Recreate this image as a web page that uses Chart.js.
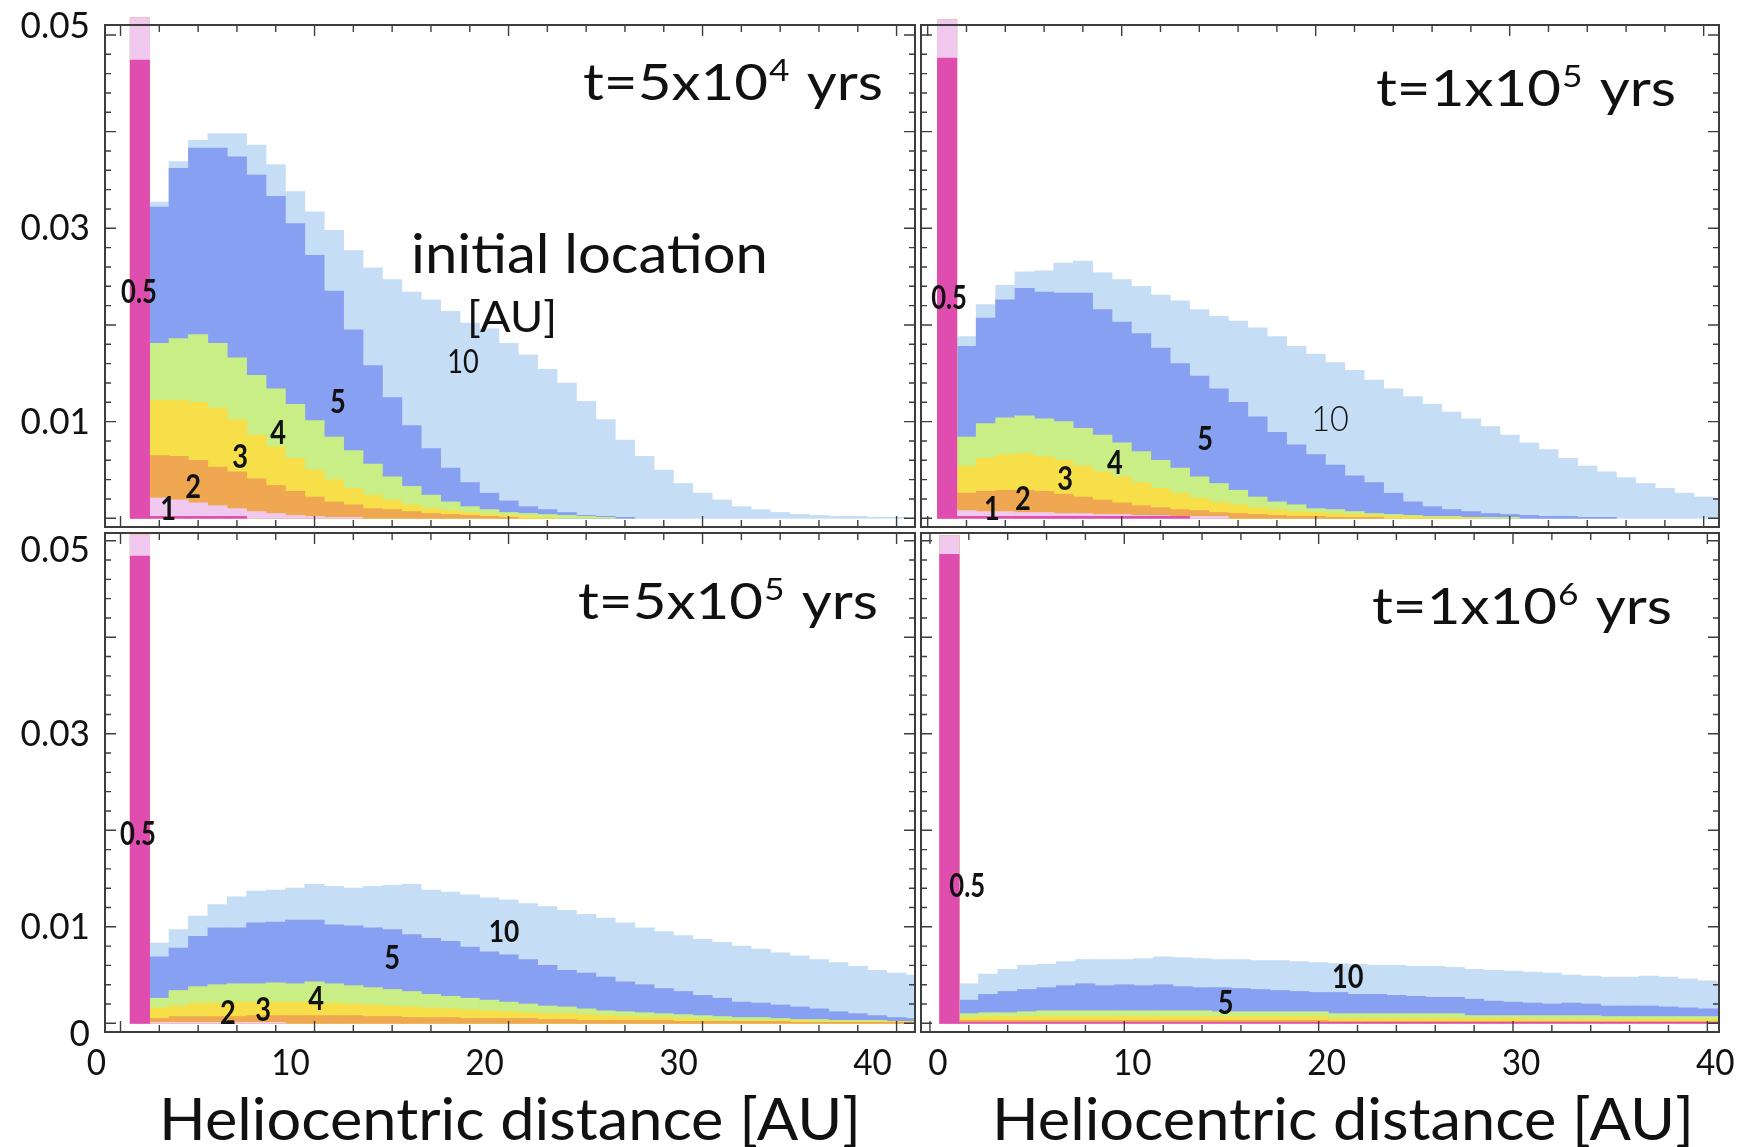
<!DOCTYPE html>
<html>
<head>
<meta charset="utf-8">
<script src="https://cdn.jsdelivr.net/npm/chart.js@4.4.1/dist/chart.umd.min.js"></script>
<style>
  html, body { margin: 0; padding: 0; background: #fff; }
  body { width: 1743px; height: 1147px; position: relative; overflow: hidden; }
  canvas { position: absolute; }
</style>
</head>
<body>
<canvas id="tl" width="918" height="530" style="left:0px;top:0px;"></canvas>
<canvas id="tr" width="825" height="530" style="left:918px;top:0px;"></canvas>
<canvas id="bl" width="918" height="617" style="left:0px;top:530px;"></canvas>
<canvas id="br" width="825" height="617" style="left:918px;top:530px;"></canvas>
<script>
// ---------------- DATA ----------------
// bin centres (heliocentric distance, AU); bins are 1 AU wide
const binCenters = [1,2,3,4,5,6,7,8,9,10,11,12,13,14,15,16,17,18,19,20,21,22,23,24,25,26,27,28,29,30,31,32,33,34,35,36,37,38,39,40,41];
// series = initial location [AU]
const seriesLabels = ['0.5', '1', '2', '3', '4', '5', '10'];
const seriesColors = ['#DF4DAF', '#F1C8EE', '#EFA752', '#F7DF49', '#C9EE85', '#88A0F1', '#C5DDF5'];
// Values are cumulative stack tops (fraction of particles from initial location <= series label)

// t = 5x10^4 yrs
const tl_05 = [0.0474,0.0002,0.0002,0.0002,0.0002,0.0002,0,0,0,0,0,0,0,0,0,0,0,0,0,0,0,0,0,0,0,0,0,0,0,0,0,0,0,0,0,0,0,0,0,0,0];
const tl_1  = [0.0518,0.0021,0.0019,0.0016,0.0013,0.0010,0.0007,0.0005,0.0003,0.0002,0.0001,0.0001,0,0,0,0,0,0,0,0,0,0,0,0,0,0,0,0,0,0,0,0,0,0,0,0,0,0,0,0,0];
const tl_2  = [0.0518,0.0065,0.0064,0.0060,0.0053,0.0048,0.0041,0.0034,0.0028,0.0022,0.0017,0.0014,0.0010,0.0009,0.0007,0.0005,0.0004,0.0003,0.0002,0.0001,0,0,0,0,0,0,0,0,0,0,0,0,0,0,0,0,0,0,0,0,0];
const tl_3  = [0.0518,0.0122,0.0122,0.0120,0.0114,0.0102,0.0086,0.0074,0.0062,0.0050,0.0040,0.0031,0.0024,0.0019,0.0014,0.0010,0.0008,0.0006,0.0004,0.0003,0.0002,0.0001,0,0,0,0,0,0,0,0,0,0,0,0,0,0,0,0,0,0,0];
const tl_4  = [0.0518,0.0181,0.0186,0.0190,0.0181,0.0166,0.0148,0.0134,0.0118,0.0101,0.0084,0.0070,0.0056,0.0043,0.0033,0.0024,0.0017,0.0012,0.0009,0.0006,0.0005,0.0004,0.0003,0.0002,0.0001,0,0,0,0,0,0,0,0,0,0,0,0,0,0,0,0];
const tl_5  = [0.0518,0.0322,0.0362,0.0383,0.0383,0.0374,0.0355,0.0333,0.0305,0.0272,0.0235,0.0195,0.0158,0.0125,0.0096,0.0072,0.0052,0.0037,0.0026,0.0018,0.0012,0.0009,0.0006,0.0003,0.0002,0.0001,0,0,0,0,0,0,0,0,0,0,0,0,0,0,0];
const tl_10 = [0.0518,0.0327,0.0369,0.0391,0.0398,0.0398,0.0386,0.0366,0.0338,0.0317,0.0298,0.0277,0.0259,0.0247,0.0234,0.0226,0.0214,0.0202,0.0196,0.0181,0.0169,0.0154,0.0140,0.0121,0.0102,0.0081,0.0064,0.0050,0.0036,0.0026,0.0019,0.0012,0.0009,0.0006,0.0004,0.0003,0.0002,0.0002,0.0001,0.0001,0];

// t = 1x10^5 yrs
const tr_05 = [0.0476,0.0002,0.0002,0.0002,0.0002,0.0002,0.0002,0.0002,0.0002,0.0002,0.0002,0.0002,0.0002,0,0,0,0,0,0,0,0,0,0,0,0,0,0,0,0,0,0,0,0,0,0,0,0,0,0,0,0];
const tr_1  = [0.0516,0.0008,0.0007,0.0007,0.0006,0.0006,0.0005,0.0005,0.0004,0.0004,0.0003,0.0003,0.0002,0.0002,0.0002,0,0,0,0,0,0,0,0,0,0,0,0,0,0,0,0,0,0,0,0,0,0,0,0,0,0];
const tr_2  = [0.0516,0.0026,0.0028,0.0029,0.0029,0.0028,0.0025,0.0022,0.0019,0.0016,0.0013,0.0011,0.0009,0.0008,0.0006,0.0005,0.0004,0.0003,0.0002,0.0002,0.0001,0.0001,0.0001,0,0,0,0,0,0,0,0,0,0,0,0,0,0,0,0,0,0];
const tr_3  = [0.0516,0.0054,0.0062,0.0066,0.0067,0.0064,0.0060,0.0054,0.0048,0.0043,0.0037,0.0031,0.0026,0.0021,0.0017,0.0014,0.0011,0.0009,0.0007,0.0006,0.0005,0.0004,0.0003,0.0002,0.0002,0.0001,0.0001,0.0001,0,0,0,0,0,0,0,0,0,0,0,0,0];
const tr_4  = [0.0516,0.0084,0.0098,0.0104,0.0106,0.0103,0.0100,0.0093,0.0086,0.0078,0.0069,0.0060,0.0052,0.0043,0.0036,0.0029,0.0022,0.0017,0.0014,0.0010,0.0009,0.0007,0.0005,0.0004,0.0003,0.0002,0.0002,0.0001,0.0001,0.0001,0,0,0,0,0,0,0,0,0,0,0];
const tr_5  = [0.0516,0.0178,0.0207,0.0226,0.0238,0.0234,0.0233,0.0233,0.0216,0.0203,0.0191,0.0176,0.0160,0.0147,0.0134,0.0120,0.0105,0.0089,0.0076,0.0066,0.0055,0.0044,0.0037,0.0026,0.0017,0.0012,0.0009,0.0007,0.0005,0.0004,0.0003,0.0002,0.0002,0.0001,0.0001,0,0,0,0,0,0];
const tr_10 = [0.0516,0.0188,0.0221,0.0241,0.0255,0.0256,0.0264,0.0266,0.0254,0.0247,0.0240,0.0231,0.0225,0.0216,0.0209,0.0204,0.0197,0.0188,0.0178,0.0170,0.0161,0.0153,0.0143,0.0134,0.0126,0.0118,0.0110,0.0103,0.0095,0.0086,0.0078,0.0071,0.0062,0.0054,0.0048,0.0042,0.0036,0.0031,0.0026,0.0022,0.0021];

// t = 5x10^5 yrs
const bl_05 = [0.0484,0,0,0,0,0,0,0,0,0,0,0,0,0,0,0,0,0,0,0,0,0,0,0,0,0,0,0,0,0,0,0,0,0,0,0,0,0,0,0,0];
const bl_1  = [0.0506,0.0001,0.0001,0.0001,0.0001,0.0001,0.0001,0.0001,0,0,0,0,0,0,0,0,0,0,0,0,0,0,0,0,0,0,0,0,0,0,0,0,0,0,0,0,0,0,0,0,0];
const bl_2  = [0.0506,0.0005,0.0007,0.0007,0.0007,0.0007,0.0008,0.0008,0.0008,0.0008,0.0008,0.0008,0.0007,0.0007,0.0006,0.0006,0.0006,0.0005,0.0005,0.0005,0.0005,0.0004,0.0004,0.0003,0.0003,0.0003,0.0003,0.0003,0.0002,0.0002,0.0002,0.0002,0.0002,0.0002,0.0001,0.0001,0.0001,0.0001,0.0001,0.0001,0.0001];
const bl_3  = [0.0506,0.0016,0.0018,0.0021,0.0021,0.0022,0.0022,0.0022,0.0022,0.0022,0.0021,0.0020,0.0019,0.0018,0.0017,0.0016,0.0015,0.0014,0.0013,0.0012,0.0011,0.0010,0.0010,0.0009,0.0008,0.0007,0.0006,0.0006,0.0005,0.0004,0.0003,0.0003,0.0003,0.0003,0.0003,0.0002,0.0002,0.0002,0.0002,0.0002,0.0002];
const bl_4  = [0.0506,0.0026,0.0034,0.0038,0.0040,0.0041,0.0041,0.0042,0.0041,0.0043,0.0041,0.0039,0.0037,0.0035,0.0033,0.0030,0.0028,0.0026,0.0024,0.0022,0.0020,0.0018,0.0017,0.0015,0.0013,0.0012,0.0011,0.0010,0.0009,0.0008,0.0007,0.0006,0.0006,0.0005,0.0004,0.0004,0.0003,0.0003,0.0003,0.0002,0.0002];
const bl_5  = [0.0506,0.0069,0.0078,0.0090,0.0099,0.0099,0.0104,0.0105,0.0107,0.0107,0.0102,0.0101,0.0099,0.0097,0.0092,0.0088,0.0085,0.0079,0.0074,0.0071,0.0066,0.0060,0.0055,0.0052,0.0048,0.0043,0.0040,0.0036,0.0033,0.0029,0.0026,0.0022,0.0021,0.0019,0.0017,0.0015,0.0012,0.0010,0.0008,0.0006,0.0005];
const bl_10 = [0.0506,0.0083,0.0097,0.0111,0.0123,0.0131,0.0137,0.0138,0.0140,0.0144,0.0142,0.0140,0.0142,0.0143,0.0144,0.0138,0.0136,0.0133,0.0130,0.0128,0.0124,0.0121,0.0117,0.0113,0.0109,0.0104,0.0099,0.0095,0.0091,0.0087,0.0084,0.0080,0.0077,0.0073,0.0070,0.0066,0.0063,0.0059,0.0055,0.0052,0.0050];

// t = 1x10^6 yrs
const br_05 = [0.0486,0.0001,0.0001,0.0001,0.0001,0.0001,0.0001,0.0001,0.0001,0.0001,0.0001,0.0001,0.0001,0.0001,0.0001,0.0001,0.0001,0.0001,0.0001,0.0001,0.0001,0.0001,0.0001,0.0001,0.0001,0.0001,0.0001,0.0001,0.0001,0.0001,0.0001,0.0001,0.0001,0.0001,0.0001,0.0001,0.0001,0.0001,0.0001,0.0001,0.0001];
const br_1  = [0.0505,0.0001,0.0001,0.0001,0.0001,0.0001,0.0001,0.0001,0.0001,0.0001,0.0001,0.0001,0.0001,0.0001,0.0001,0.0001,0.0001,0.0001,0.0001,0.0001,0.0001,0.0001,0.0001,0.0001,0.0001,0.0001,0.0001,0.0001,0.0001,0.0001,0.0001,0.0001,0.0001,0.0001,0.0001,0.0001,0.0001,0.0001,0.0001,0.0001,0.0001];
const br_2  = [0.0505,0.0003,0.0003,0.0003,0.0003,0.0003,0.0003,0.0003,0.0003,0.0003,0.0003,0.0003,0.0003,0.0003,0.0003,0.0003,0.0003,0.0003,0.0003,0.0003,0.0002,0.0002,0.0002,0.0002,0.0002,0.0002,0.0002,0.0002,0.0002,0.0002,0.0002,0.0002,0.0002,0.0002,0.0002,0.0002,0.0002,0.0002,0.0002,0.0002,0.0002];
const br_3  = [0.0505,0.0006,0.0007,0.0007,0.0007,0.0007,0.0007,0.0007,0.0007,0.0007,0.0007,0.0007,0.0007,0.0007,0.0007,0.0007,0.0007,0.0007,0.0007,0.0007,0.0005,0.0005,0.0005,0.0005,0.0005,0.0005,0.0005,0.0005,0.0005,0.0005,0.0004,0.0004,0.0004,0.0004,0.0004,0.0004,0.0004,0.0004,0.0004,0.0004,0.0004];
const br_4  = [0.0505,0.0010,0.0011,0.0011,0.0012,0.0013,0.0013,0.0013,0.0013,0.0013,0.0013,0.0013,0.0013,0.0013,0.0012,0.0012,0.0012,0.0012,0.0012,0.0012,0.0010,0.0010,0.0010,0.0010,0.0010,0.0010,0.0010,0.0008,0.0008,0.0008,0.0008,0.0008,0.0008,0.0008,0.0007,0.0007,0.0007,0.0007,0.0007,0.0007,0.0007];
const br_5  = [0.0505,0.0024,0.0030,0.0033,0.0035,0.0037,0.0039,0.0041,0.0039,0.0040,0.0039,0.0040,0.0038,0.0037,0.0037,0.0036,0.0035,0.0034,0.0033,0.0032,0.0032,0.0030,0.0030,0.0029,0.0028,0.0027,0.0027,0.0025,0.0023,0.0022,0.0021,0.0020,0.0021,0.0020,0.0018,0.0018,0.0018,0.0017,0.0016,0.0015,0.0015];
const br_10 = [0.0505,0.0041,0.0051,0.0056,0.0060,0.0061,0.0064,0.0066,0.0066,0.0066,0.0067,0.0069,0.0068,0.0067,0.0066,0.0066,0.0065,0.0065,0.0064,0.0063,0.0062,0.0061,0.0060,0.0060,0.0059,0.0059,0.0058,0.0056,0.0055,0.0054,0.0053,0.0052,0.0050,0.0049,0.0048,0.0048,0.0049,0.0048,0.0046,0.0044,0.0042];

// tick labels
const xTickValues = [0, 10, 20, 30, 40];
const xTickText = ['0', '10', '20', '30', '40'];
const yTickValuesTop = [0.05, 0.03, 0.01];
const yTickTextTop = ['0.05', '0.03', '0.01'];
const yTickValuesBottom = [0.05, 0.03, 0.01, 0];
const yTickTextBottom = ['0.05', '0.03', '0.01', '0'];
const panelTimes = [['t=5x10', '4', ' yrs'], ['t=1x10', '5', ' yrs'], ['t=5x10', '5', ' yrs'], ['t=1x10', '6', ' yrs']];
const xAxisTitle = 'Heliocentric distance [AU]';

// ---------------- DRAWING ----------------
function scaledText(ctx, str, x, y, font, align, baseline, sx) {
  ctx.save();
  ctx.font = font; ctx.textAlign = align; ctx.textBaseline = baseline;
  ctx.translate(x, y); ctx.scale(sx, 1);
  ctx.fillText(str, 0, 0);
  ctx.restore();
}

const framePlugin = {
  id: 'frame',
  afterDraw(chart, args, o) {
    const { ctx, chartArea: a } = chart;
    const xs = chart.scales.x, ys = chart.scales.y;
    ctx.save();
    ctx.strokeStyle = '#3d3d3d';
    ctx.lineWidth = 2;
    ctx.strokeRect(a.left, a.top, a.right - a.left, a.bottom - a.top);
    ctx.lineWidth = 1.4;
    ctx.beginPath();
    // x ticks every 2 AU, long every 10 AU (top and bottom, inward)
    for (let i = Math.ceil(xs.min / 2); i * 2 <= xs.max; i++) {
      const px = xs.getPixelForValue(i * 2);
      const len = (i % 5 === 0) ? 11 : 7;
      ctx.moveTo(px, a.bottom); ctx.lineTo(px, a.bottom - len);
      ctx.moveTo(px, a.top); ctx.lineTo(px, a.top + len);
    }
    // y ticks every 0.002, long every 0.01 (left and right, inward)
    for (let i = Math.ceil(ys.min / 0.002 - 1e-6); i * 0.002 <= ys.max + 1e-9; i++) {
      const py = ys.getPixelForValue(i * 0.002);
      const len = (i % 5 === 0) ? 11 : 6;
      ctx.moveTo(a.left, py); ctx.lineTo(a.left + len, py);
      ctx.moveTo(a.right, py); ctx.lineTo(a.right - len, py);
    }
    ctx.stroke();

    ctx.fillStyle = '#111';
    // y tick labels
    if (o.yVals) {
      o.yVals.forEach((v, i) => {
        scaledText(ctx, o.yText[i], a.left - 15, ys.getPixelForValue(v) + o.yShift[i], '37px Lato', 'right', 'middle', 0.95);
      });
    }
    // x tick labels
    if (o.xLabels) {
      xTickValues.forEach((v, i) => {
        scaledText(ctx, xTickText[i], xs.getPixelForValue(v) + o.xLabelShift, a.bottom + 31, '37px Lato', 'center', 'middle', 0.9);
      });
      // axis title, fitted to reference width
      ctx.font = '59px Lato';
      const w = ctx.measureText(xAxisTitle).width;
      scaledText(ctx, xAxisTitle, xs.getPixelForValue(o.axisTitleX), a.bottom + 108, '59px Lato', 'center', 'alphabetic', o.axisTitleW / w);
    }
    // panel time label with superscript
    const t = o.time;
    const mainF = '51px Lato', supF = '31px Lato';
    ctx.font = mainF;
    const w1 = ctx.measureText(t[0]).width, w3 = ctx.measureText(t[2]).width;
    ctx.font = supF;
    const w2 = ctx.measureText(t[1]).width;
    const sx = o.timeW / (w1 + w2 + w3 + 3);
    ctx.save();
    ctx.translate(a.right - o.timeRight - o.timeW, a.top + o.timeBase);
    ctx.scale(sx, 1);
    ctx.textAlign = 'left'; ctx.textBaseline = 'alphabetic';
    ctx.font = mainF; ctx.fillText(t[0], 0, 0);
    ctx.font = supF; ctx.fillText(t[1], w1 + 1, -19);
    ctx.font = mainF; ctx.fillText(t[2], w1 + w2 + 3, 0);
    ctx.restore();
    // in-plot series annotations
    (o.notes || []).forEach(n => {
      scaledText(ctx, n.text, xs.getPixelForValue(n.x), ys.getPixelForValue(n.y), n.font, 'center', 'middle', n.sx || 0.85);
    });
    // legend caption (top-left panel)
    if (o.caption) {
      ctx.font = '54px Lato';
      const cw = ctx.measureText('initial location').width;
      scaledText(ctx, 'initial location', xs.getPixelForValue(o.caption.x), ys.getPixelForValue(o.caption.y), '54px Lato', 'left', 'alphabetic', 357 / cw);
      ctx.font = '42px Lato';
      const aw = ctx.measureText('[AU]').width;
      scaledText(ctx, '[AU]', xs.getPixelForValue(o.caption.ax), ys.getPixelForValue(o.caption.ay), '42px Lato', 'center', 'alphabetic', 90 / aw);
    }
    ctx.restore();
  }
};

function makePanel(id, series, opts) {
  const datasets = series.map((arr, i) => ({
    label: seriesLabels[i],
    // empty bins are left out (null) so that no hairline is drawn for them
    data: binCenters.map((x, j) => ({ x: x, y: arr[j] === 0 ? null : arr[j] })),
    backgroundColor: seriesColors[i],
    borderWidth: 0,
    grouped: false,
    barPercentage: 1,
    categoryPercentage: 1,
    // clip to the frame except at the top (first bin pokes above the frame)
    clip: { left: 0, right: 0, bottom: 0, top: false }
  }));
  return new Chart(document.getElementById(id), {
    type: 'bar',
    data: { datasets },
    options: {
      responsive: false,
      animation: false,
      devicePixelRatio: 1,
      layout: { padding: opts.padding },
      plugins: { legend: { display: false }, tooltip: { enabled: false }, frame: opts.frame },
      scales: {
        x: { type: 'linear', offset: false, min: opts.xmin, max: opts.xmax, display: false,
             grid: { offset: false }, ticks: { stepSize: 2, includeBounds: false } },
        y: { type: 'linear', min: opts.ymin, max: opts.ymax, display: false, ticks: { stepSize: 0.002, includeBounds: false } }
      }
    },
    plugins: [framePlugin]
  });
}

const B = 'bold 32px Lato', S = 'bold 32px Lato';

makePanel('tl', [tl_05, tl_1, tl_2, tl_3, tl_4, tl_5, tl_10], {
  padding: { left: 105, top: 25, right: 3, bottom: 3 },
  xmin: -0.80, xmax: 40.95, ymin: -0.0009, ymax: 0.05103,
  frame: {
    yVals: yTickValuesTop, yText: yTickTextTop, yShift: [-9, 0, 0],
    time: panelTimes[0], timeW: 300, timeRight: 32, timeBase: 75,
    notes: [
      { text: '0.5', x: 0.95, y: 0.0233, font: S, sx: 0.8 },
      { text: '1', x: 2.45, y: 0.0009, font: B },
      { text: '2', x: 3.74, y: 0.0032, font: B },
      { text: '3', x: 6.16, y: 0.0063, font: B },
      { text: '4', x: 8.12, y: 0.0088, font: B },
      { text: '5', x: 11.21, y: 0.0120, font: B },
      { text: '10', x: 17.65, y: 0.0161, font: '32px Lato' }
    ],
    caption: { x: 14.97, y: 0.0254, ax: 20.18, ay: 0.0193 }
  }
});

makePanel('tr', [tr_05, tr_1, tr_2, tr_3, tr_4, tr_5, tr_10], {
  padding: { left: 3, top: 25, right: 24, bottom: 3 },
  xmin: -0.345, xmax: 40.79, ymin: -0.0009, ymax: 0.05103,
  frame: {
    time: panelTimes[1], timeW: 300, timeRight: 43, timeBase: 81,
    notes: [
      { text: '0.5', x: 1.10, y: 0.0227, font: S, sx: 0.8 },
      { text: '1', x: 3.31, y: 0.0009, font: B },
      { text: '2', x: 4.91, y: 0.0019, font: B },
      { text: '3', x: 7.08, y: 0.0040, font: B },
      { text: '4', x: 9.65, y: 0.0057, font: B },
      { text: '5', x: 14.3, y: 0.0081, font: B },
      { text: '10', x: 20.74, y: 0.0102, font: '300 36px Lato', sx: 0.9 }
    ]
  }
});

makePanel('bl', [bl_05, bl_1, bl_2, bl_3, bl_4, bl_5, bl_10], {
  padding: { left: 105, top: 3, right: 3, bottom: 115 },
  xmin: -0.80, xmax: 40.95, ymin: -0.0009, ymax: 0.0508,
  frame: {
    yVals: yTickValuesBottom, yText: yTickTextBottom, yShift: [9, 0, 0, 11],
    xLabels: true, xLabelShift: -24, axisTitleX: 20.08, axisTitleW: 702,
    time: panelTimes[2], timeW: 300, timeRight: 37, timeBase: 86,
    notes: [
      { text: '0.5', x: 0.90, y: 0.0195, font: S, sx: 0.8 },
      { text: '2', x: 5.54, y: 0.0010, font: B },
      { text: '3', x: 7.35, y: 0.0013, font: B },
      { text: '4', x: 10.08, y: 0.0024, font: B },
      { text: '5', x: 14.0, y: 0.0067, font: B },
      { text: '10', x: 19.77, y: 0.0095, font: 'bold 31px Lato' }
    ]
  }
});

makePanel('br', [br_05, br_1, br_2, br_3, br_4, br_5, br_10], {
  padding: { left: 3, top: 3, right: 24, bottom: 115 },
  xmin: -0.46, xmax: 40.6, ymin: -0.0009, ymax: 0.0508,
  frame: {
    xLabels: true, xLabelShift: 8, axisTitleX: 21.25, axisTitleW: 702,
    time: panelTimes[3], timeW: 300, timeRight: 47, timeBase: 91,
    notes: [
      { text: '0.5', x: 1.92, y: 0.0142, font: S, sx: 0.8 },
      { text: '5', x: 15.22, y: 0.0020, font: B },
      { text: '10', x: 21.5, y: 0.0047, font: 'bold 32px Lato' }
    ]
  }
});
</script>
</body>
</html>
